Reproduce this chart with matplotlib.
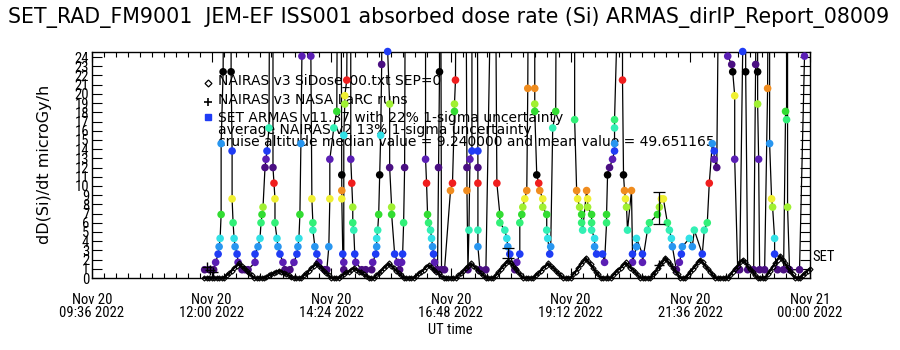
import numpy as np
import matplotlib
matplotlib.use('Agg')
import matplotlib.pyplot as plt

# time axis: hours after Nov 20 2022 09:36 UT
tick_hours = [0, 2.4, 4.8, 7.2, 9.6, 12.0, 14.4]
tick_labels = ['Nov 20\n09:36 2022', 'Nov 20\n12:00 2022', 'Nov 20\n14:24 2022',
               'Nov 20\n16:48 2022', 'Nov 20\n19:12 2022', 'Nov 20\n21:36 2022',
               'Nov 21\n00:00 2022']
y_ticks = list(range(25))

# NAIRAS v3 SiDose (diamonds), sampled every 3 minutes from 11:51 UT
nairas_t = np.round(np.arange(2.25, 14.401, 0.05), 2)
nairas_v = [
    0, 0, 0, 0, 0, 0, 0, 0, 0, 0.3, 0.5, 0.8, 1.1, 1.3, 1.6, 1.3, 1.1, 0.8, 0.5, 0.3,
    0, 0, 0, 0, 0, 0.1, 0.3, 0.4, 0.5, 0.7, 0.8, 0.7, 0.5, 0.4, 0.3, 0.1, 0, 0, 0, 0,
    0.3, 0.5, 0.8, 1.1, 1.3, 1.6, 1.3, 1.1, 0.8, 0.5, 0.3, 0, 0, 0, 0, 0.2, 0.4, 0.6, 0.7, 0.9,
    1.1, 0.9, 0.7, 0.6, 0.4, 0.2, 0, 0, 0, 0.3, 0.5, 0.8, 1.1, 1.3, 1.6, 1.3, 1.1, 0.8, 0.5, 0.3,
    0, 0, 0, 0, 0, 0.2, 0.5, 0.7, 0.9, 1.2, 1.4, 1.2, 0.9, 0.7, 0.5, 0.2, 0, 0, 0, 0,
    0, 0, 0.3, 0.5, 0.8, 1.1, 1.3, 1.6, 1.3, 1.1, 0.8, 0.5, 0.3, 0, 0, 0, 0, 0.3, 0.6, 1.0,
    1.3, 1.6, 1.9, 1.6, 1.3, 1.0, 0.6, 0.3, 0, 0, 0, 0, 0, 0.3, 0.5, 0.8, 1.1, 1.3, 1.6, 1.3,
    1.1, 0.8, 0.5, 0.3, 0, 0, 0, 0, 0.4, 0.7, 1.1, 1.5, 1.8, 2.2, 1.8, 1.5, 1.1, 0.7, 0.4, 0,
    0, 0, 0, 0, 0.3, 0.6, 0.9, 1.1, 1.4, 1.7, 1.4, 1.1, 0.9, 0.6, 0.3, 0, 0, 0, 0, 0,
    0.4, 0.7, 1.1, 1.5, 1.8, 2.2, 1.8, 1.5, 1.1, 0.7, 0.4, 0, 0, 0, 0.3, 0.7, 1.0, 1.3, 1.7, 2.0,
    1.7, 1.3, 1.0, 0.7, 0.3, 0, 0, 0, 0, 0, 0, 0.3, 0.7, 1.0, 1.3, 1.7, 2.0, 1.7, 1.3, 1.0,
    0.7, 0.3, 0, 0, 0, 0, 0.4, 0.8, 1.2, 1.6, 2.0, 2.4, 2.0, 1.6, 1.2, 0.8, 0.4, 0, 0, 0,
    0.3, 0.5, 0.8, 1.0]

# NAIRAS v3 NASA LaRC runs (+) and NAIRAS v2 uncertainty bars
larc_t = [2.30, 2.36, 2.42, 11.38]
larc_v = [1.2, 0.9, 0.6, 1.4]
err_t = [8.34, 11.38]
err_v = [2.7, 7.6]
err_e = [0.55, 1.7]

# SET ARMAS dose rate, values above 24.5 are the cruise part (off scale)
armas_t = [
    2.26, 2.36,
    2.44, 2.48, 2.53, 2.55, 2.57, 2.59, 2.59, 2.63, 2.65,
    2.79, 2.79, 2.81, 2.81, 2.83, 2.85, 2.87, 2.91, 2.93, 3.01, 3.07,
    3.13, 3.27, 3.27, 3.33, 3.37, 3.39, 3.41, 3.43, 3.47, 3.49, 3.51, 3.55, 3.57,
    3.63, 3.63, 3.65, 3.67, 3.67, 3.71, 3.73, 3.77, 3.83, 3.87, 3.97,
    4.05, 4.11, 4.13, 4.15, 4.17, 4.19, 4.21, 4.23,
    4.39, 4.39, 4.41, 4.43, 4.43, 4.47, 4.51, 4.55, 4.67,
    4.71, 4.75, 4.77, 4.77, 4.85, 4.91, 4.93,
    4.99, 5.01, 5.01, 5.01, 5.03, 5.05,
    5.05, 5.05, 5.07, 5.07, 5.11, 5.13,
    5.19, 5.19, 5.21, 5.23, 5.23, 5.25, 5.27, 5.29, 5.41, 5.49,
    5.61, 5.63, 5.69, 5.71, 5.71, 5.73, 5.75, 5.77, 5.79, 5.81, 5.83,
    5.93, 5.93, 5.97, 5.97, 6.01, 6.01, 6.07, 6.13, 6.17,
    6.21, 6.23, 6.25, 6.27, 6.29,
    6.69, 6.69, 6.71, 6.73, 6.75, 6.79, 6.81, 6.83, 6.85, 6.87, 6.91,
    6.93, 6.95, 6.97, 6.97, 6.99, 7.01,
    7.07, 7.19, 7.23, 7.27, 7.27, 7.29, 7.31,
    7.49, 7.52, 7.52, 7.54,
    7.56, 7.58, 7.62, 7.62,
    7.72, 7.74, 7.74, 7.74, 7.74, 7.74, 7.78,
    7.90, 8.04,
    8.08, 8.12, 8.18, 8.18, 8.28, 8.32, 8.34, 8.38, 8.48, 8.52,
    8.58, 8.58, 8.62, 8.64, 8.68, 8.72, 8.74, 8.76,
    8.88, 8.88, 8.88, 8.88, 8.92, 8.96, 8.98, 9.04, 9.04, 9.12, 9.12, 9.14, 9.18,
    9.20, 9.24, 9.30, 9.32,
    9.68, 9.68, 9.72, 9.74, 9.78, 9.82, 9.82, 9.84,
    9.92, 9.94, 9.94, 10.02, 10.02, 10.02, 10.08, 10.08, 10.12, 10.24, 10.28,
    10.32, 10.32, 10.34, 10.38, 10.44, 10.48, 10.48, 10.48, 10.48, 10.62,
    10.64, 10.64, 10.66, 10.68, 10.70, 10.72, 10.74, 10.82,
    10.84, 10.84, 10.92, 10.92, 11.04, 11.04, 11.14, 11.18, 11.34, 11.38, 11.42, 11.46,
    11.54, 11.58, 11.62, 11.64, 11.72, 11.78, 11.82, 11.84, 11.98, 12.04, 12.08,
    12.24, 12.28, 12.34, 12.38, 12.44, 12.48, 12.48, 12.53, 12.59,
    12.75, 12.75, 12.83, 12.85, 12.89, 12.89, 12.95,
    12.99, 13.05, 13.07, 13.11, 13.11, 13.15,
    13.27, 13.31, 13.33, 13.35, 13.35, 13.35, 13.37, 13.39,
    13.49, 13.55, 13.57, 13.59, 13.59, 13.63, 13.65, 13.69, 13.69, 13.75,
    13.87, 13.91, 13.93, 13.93, 13.95, 13.95, 13.99,
    14.19, 14.29, 14.31]
armas_v = [
    0.9, 0.9,
    0.9, 1.7, 2.6, 3.4, 4.3, 6.9, 14.6, 22.4, 45,
    45, 22.4, 13.8, 8.6, 6.0, 4.3, 3.4, 2.6, 1.7, 0.9, 0.9,
    0.9, 1.7, 2.6, 3.4, 4.3, 6.0, 6.9, 7.7, 12.0, 12.9, 13.8, 16.3, 45,
    45, 12.0, 10.3, 8.6, 6.0, 4.3, 3.4, 2.6, 1.7, 0.9, 0.9,
    1.7, 2.6, 3.4, 4.3, 6.9, 14.6, 24.1, 45,
    45, 24.1, 8.6, 6.0, 5.2, 3.4, 2.6, 1.7, 0.9,
    0.9, 3.4, 8.6, 12.9, 16.3, 18.1, 45,
    45, 11.2, 9.5, 8.6, 2.6, 0.9,
    1.7, 15.5, 18.9, 19.8, 21.5, 45,
    45, 12.9, 10.3, 7.7, 6.0, 5.2, 2.6, 1.7, 0.9, 0.9,
    0.9, 1.7, 2.6, 3.4, 4.3, 5.2, 6.9, 11.2, 15.5, 23.2, 45,
    45, 24.6, 18.9, 12.0, 7.7, 6.9, 2.6, 1.7, 0.9,
    1.7, 2.6, 6.0, 12.0, 45,
    45, 12.9, 10.3, 6.9, 6.0, 5.2, 4.3, 3.4, 2.6, 1.7, 0.9,
    0.9, 12.0, 22.4, 45, 45, 0.9,
    0.9, 9.5, 10.3, 18.1, 18.9, 21.5, 45,
    45, 12.0, 9.5, 0.9,
    5.2, 12.9, 13.8, 45,
    45, 13.8, 12.0, 10.3, 5.2, 3.4, 0.9,
    0.9, 45,
    45, 10.3, 6.9, 6.0, 5.2, 4.3, 3.4, 2.6, 0.9, 1.7,
    2.6, 6.0, 6.9, 7.7, 8.6, 9.5, 20.6, 45,
    45, 20.6, 18.9, 18.1, 11.2, 10.3, 9.5, 8.6, 7.7, 6.9, 5.2, 4.3, 2.6,
    3.4, 16.3, 18.1, 45,
    45, 17.2, 9.5, 8.6, 7.7, 6.9, 6.0, 5.2,
    9.5, 8.6, 7.7, 6.9, 6.0, 5.2, 4.3, 3.4, 2.6, 2.6, 1.7,
    6.0, 6.9, 11.2, 12.0, 12.9, 13.8, 14.6, 16.3, 17.2, 45,
    45, 21.5, 11.2, 9.5, 8.6, 7.7, 5.2, 9.5,
    2.6, 1.7, 3.4, 4.3, 2.6, 1.7, 5.2, 6.0, 6.9, 7.7, 8.6, 8.6,
    6.0, 5.2, 4.3, 3.4, 0.9, 1.7, 2.6, 3.4, 4.3, 3.4, 5.2,
    2.6, 5.2, 6.0, 10.3, 14.6, 13.8, 12.9, 12.0, 45,
    45, 24.1, 23.2, 22.4, 19.8, 12.9, 0.9,
    0.9, 24.6, 45, 45, 22.4, 0.9,
    0.9, 23.2, 45, 45, 22.4, 18.9, 12.9, 0.9,
    0.9, 20.6, 45, 45, 14.6, 8.6, 7.7, 4.3, 2.6, 0.9,
    0.9, 18.1, 17.2, 45, 45, 7.7, 0.9,
    0.9, 24.1, 45]

# ARMAS symbol colours repeat every 13 dose steps of about 0.86 microGy/h
level_colors = ['#4a0f82', '#5a1eb4', '#1f3cf5', '#2896f0', '#32e1e6', '#32f0b4',
                '#32f078', '#32dc32', '#a0f032', '#f0f032', '#f08c1e', '#f01e1e',
                '#000000']
step = 0.86

fig = plt.figure(figsize=(9, 3.5), dpi=100)
ax = fig.add_axes([0.1022, 0.2057, 0.7978, 0.6457])
ax.set_xlim(0, 14.4)
ax.set_ylim(0, 24.55)

narrow = ['Liberation Sans Narrow', 'Roboto Condensed', 'Open Sans Condensed',
          'Noto Sans Condensed', 'DejaVu Sans']

# legend block drawn as plain text, like the original
ax.plot([0.162], [0.863], transform=ax.transAxes, marker='D', ms=3.5, mfc='none',
        mec='k', mew=0.9, clip_on=False)
ax.plot([0.162], [0.779], transform=ax.transAxes, marker='+', ms=6, color='k',
        mew=1.2, clip_on=False)
ax.plot([0.162], [0.712], transform=ax.transAxes, marker='s', ms=4.5, color='#1f3cf5',
        clip_on=False)
legend_lines = [(0.872, 'NAIRAS v3 SiDose_00.txt SEP=0'),
                (0.788, 'NAIRAS v3 NASA LaRC runs'),
                (0.708, 'SET ARMAS v11.37 with 22% 1-sigma uncertainty'),
                (0.655, 'average NAIRAS v2 13% 1-sigma uncertainty'),
                (0.602, 'cruise altitude median value = 9.240000 and mean value = 49.651165')]
for yy, s in legend_lines:
    ax.text(0.175, yy, s, transform=ax.transAxes, fontsize=10, va='center',
            ha='left', zorder=1)

# ARMAS trace and coloured points
at = np.array(armas_t)
av = np.array(armas_v)
ax.plot(at, av, color='k', lw=0.9, zorder=2)
on = av < 30
lev = np.rint(av[on] / step).astype(int)
cols = [level_colors[(k - 1) % 13] for k in lev]
ax.scatter(at[on], av[on], c=cols, s=30, marker='o', linewidths=0, zorder=3,
           clip_on=False)

# NAIRAS model
ax.plot(nairas_t, nairas_v, color='k', lw=1.6, marker='D', ms=2.6, mfc='none',
        mec='k', mew=0.8, zorder=4, clip_on=False)
ax.plot(larc_t, larc_v, ls='none', marker='+', ms=7, color='k', mew=1.0, zorder=4)
ax.errorbar(err_t, err_v, yerr=err_e, fmt='none', ecolor='k', elinewidth=0.9,
            capsize=4, capthick=0.9, zorder=4)

# axes styling
ax.set_xticks(tick_hours)
ax.set_xticklabels(tick_labels, family=narrow, stretch='condensed', fontsize=10.5,
                   linespacing=0.9)
ax.set_xticks(np.arange(0, 14.41, 0.24), minor=True)
ax.set_yticks(y_ticks)
ax.set_yticklabels([str(v) for v in y_ticks], family=narrow, stretch='condensed',
                   fontsize=10.5)
ax.tick_params(axis='y', which='major', direction='in', length=7.5, width=0.8,
               left=True, right=True, pad=2)
ax.tick_params(axis='x', which='major', direction='in', length=7, width=0.8,
               top=True, bottom=True, pad=11)
ax.tick_params(axis='x', which='minor', direction='in', length=3.5, width=0.8,
               top=True, bottom=True)
for sp in ax.spines.values():
    sp.set_linewidth(1.0)

ax.text(1.004, 0.093, 'SET', transform=ax.transAxes, family=narrow,
        stretch='condensed', fontsize=10.5, va='center', ha='left')

fig.text(0.499, 0.949, 'SET_RAD_FM9001  JEM-EF ISS001 absorbed dose rate (Si) '
         'ARMAS_dirIP_Report_08009', ha='center', va='center', fontsize=14.8)
fig.text(0.05, 0.529, 'dD(Si)/dt microGy/h', rotation=90, ha='center', va='center',
         fontsize=11.5)
fig.text(0.5, 0.057, 'UT time', ha='center', va='center', family=narrow,
         stretch='condensed', fontsize=10.5)

fig.savefig('out.png', dpi=100)
